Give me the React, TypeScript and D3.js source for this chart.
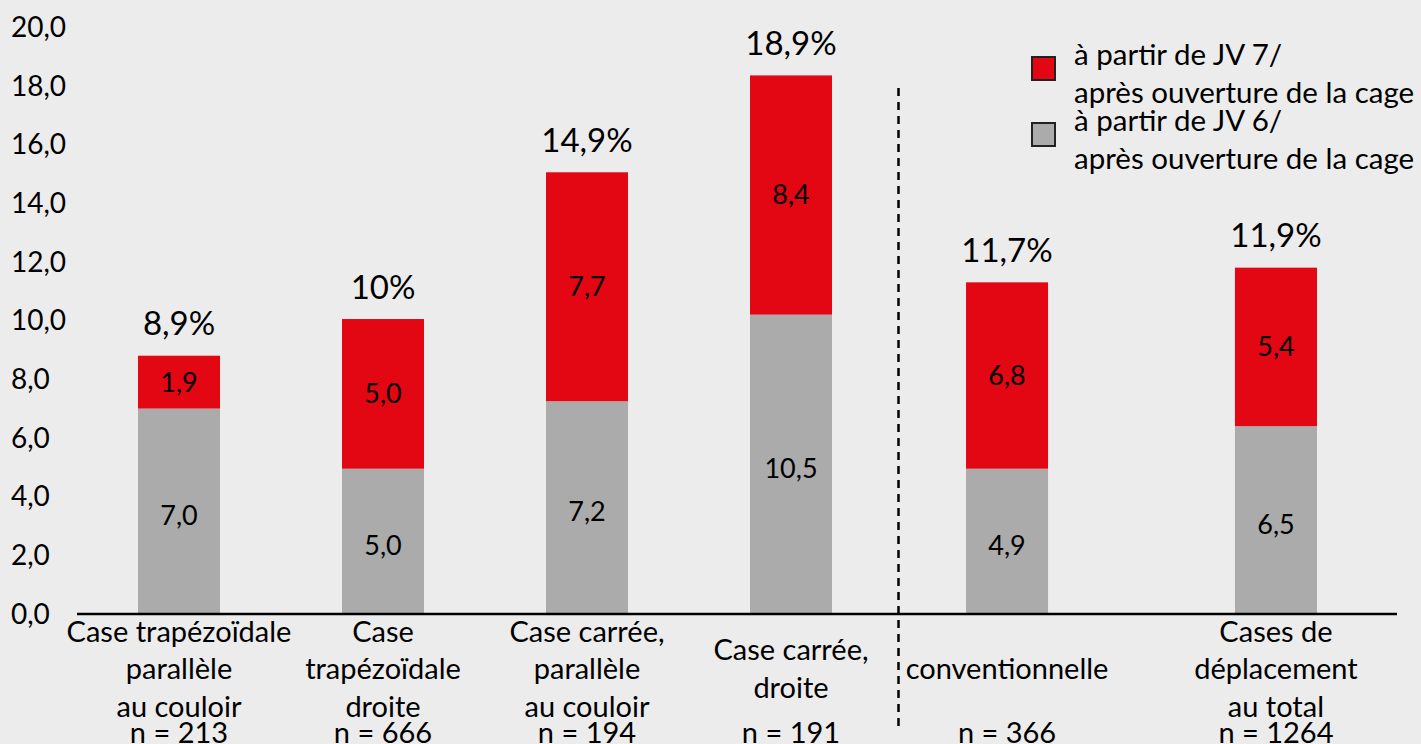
import React from "react";
import * as d3 from "d3";

// categories (lines of the x labels)
const groupA = [
  ["Case trapézoïdale", "parallèle", "au couloir"],
  ["Case", "trapézoïdale", "droite"],
  ["Case carrée,", "parallèle", "au couloir"],
  ["Case carrée,", "droite"],
];
const groupB = [["conventionnelle"], ["Cases de", "déplacement", "au total"]];
const nLabels = ["n = 213", "n = 666", "n = 194", "n = 191", "n = 366", "n = 1264"];

// bar heights as drawn in the picture
const jv6 = [7.0, 4.95, 7.25, 10.2, 4.95, 6.4];
const jv7 = [1.8, 5.1, 7.8, 8.15, 6.35, 5.4];

// printed labels
const jv6Labels = ["7,0", "5,0", "7,2", "10,5", "4,9", "6,5"];
const jv7Labels = ["1,9", "5,0", "7,7", "8,4", "6,8", "5,4"];
const totalLabels = ["8,9%", "10%", "14,9%", "18,9%", "11,7%", "11,9%"];

const yTicks = [0, 2, 4, 6, 8, 10, 12, 14, 16, 18, 20];

const legendItems = [
  { lines: ["à partir de JV 7/", "après ouverture de la cage"], color: "#e30613" },
  { lines: ["à partir de JV 6/", "après ouverture de la cage"], color: "#ababab" },
];

const W = 1421, H = 744;
const FONT = "Lato, 'Open Sans', sans-serif";
const RED = "#e30613";
const GRAY = "#ababab";

export default function App() {
  const y = d3.scaleLinear().domain([0, 20]).range([614, 27]);

  const xA = d3.scaleBand<number>().domain(d3.range(4)).range([77, 893]).paddingInner(0.598).paddingOuter(0.299);
  const xB = d3.scaleBand<number>().domain(d3.range(2)).range([898, 1385]).paddingInner(0.695).paddingOuter(0.253);

  const bars = jv6.map((g, i) => {
    const x = i < 4 ? xA(i)! : xB(i - 4)!;
    const bw = i < 4 ? xA.bandwidth() : xB.bandwidth();
    const lines = i < 4 ? groupA[i] : groupB[i - 4];
    return { i, x, bw, g, r: jv7[i], lines };
  });

  const lineH = 37.5;

  return (
    <svg width={W} height={H} style={{ position: "absolute", left: 0, top: 0, display: "block" }} fontFamily={FONT}>
      <rect width={W} height={H} fill="#ececec" />

      {/* y tick labels */}
      {yTicks.map((t) => (
        <text key={t} x={11} y={y(t)} dy="0.35em" fontSize={28} fill="#000">
          {d3.format(".1f")(t).replace(".", ",")}
        </text>
      ))}

      {bars.map((b) => {
        const cx = b.x + b.bw / 2;
        const total = b.g + b.r;
        const blockMid = 669;
        return (
          <g key={b.i}>
            <rect x={b.x} y={y(b.g)} width={b.bw} height={y(0) - y(b.g)} fill={GRAY} />
            <rect x={b.x} y={y(total)} width={b.bw} height={y(b.g) - y(total)} fill={RED} />
            <text x={cx} y={(y(0) + y(b.g)) / 2 + 4} dy="0.35em" textAnchor="middle" fontSize={27}>
              {jv6Labels[b.i]}
            </text>
            <text x={cx} y={(y(b.g) + y(total)) / 2} dy="0.35em" textAnchor="middle" fontSize={27}>
              {jv7Labels[b.i]}
            </text>
            <text x={cx} y={y(total) - 32} dy="0.35em" textAnchor="middle" fontSize={33}>
              {totalLabels[b.i]}
            </text>
            {b.lines.map((l, k) => (
              <text
                key={k}
                x={cx}
                y={blockMid + (k - (b.lines.length - 1) / 2) * lineH}
                dy="0.35em"
                textAnchor="middle"
                fontSize={29}
              >
                {l}
              </text>
            ))}
            <text x={cx} y={733} dy="0.35em" textAnchor="middle" fontSize={29}>
              {nLabels[b.i]}
            </text>
          </g>
        );
      })}

      {/* baseline */}
      <line x1={77} x2={1397} y1={y(0)} y2={y(0)} stroke="#000" strokeWidth={2.5} />

      {/* separator */}
      <line x1={898.5} x2={898.5} y1={88} y2={730} stroke="#000" strokeWidth={2.5} strokeDasharray="8,6" />

      {/* legend */}
      {legendItems.map((it, k) => {
        const top = 57 + k * 66;
        return (
          <g key={k}>
            <rect x={1032} y={top} width={23} height={23} fill={it.color} stroke="#222" strokeWidth={2} />
            {it.lines.map((l, j) => (
              <text key={j} x={1074} y={top - 2 + j * 38} dy="0.35em" fontSize={29.5}>
                {l}
              </text>
            ))}
          </g>
        );
      })}
    </svg>
  );
}
